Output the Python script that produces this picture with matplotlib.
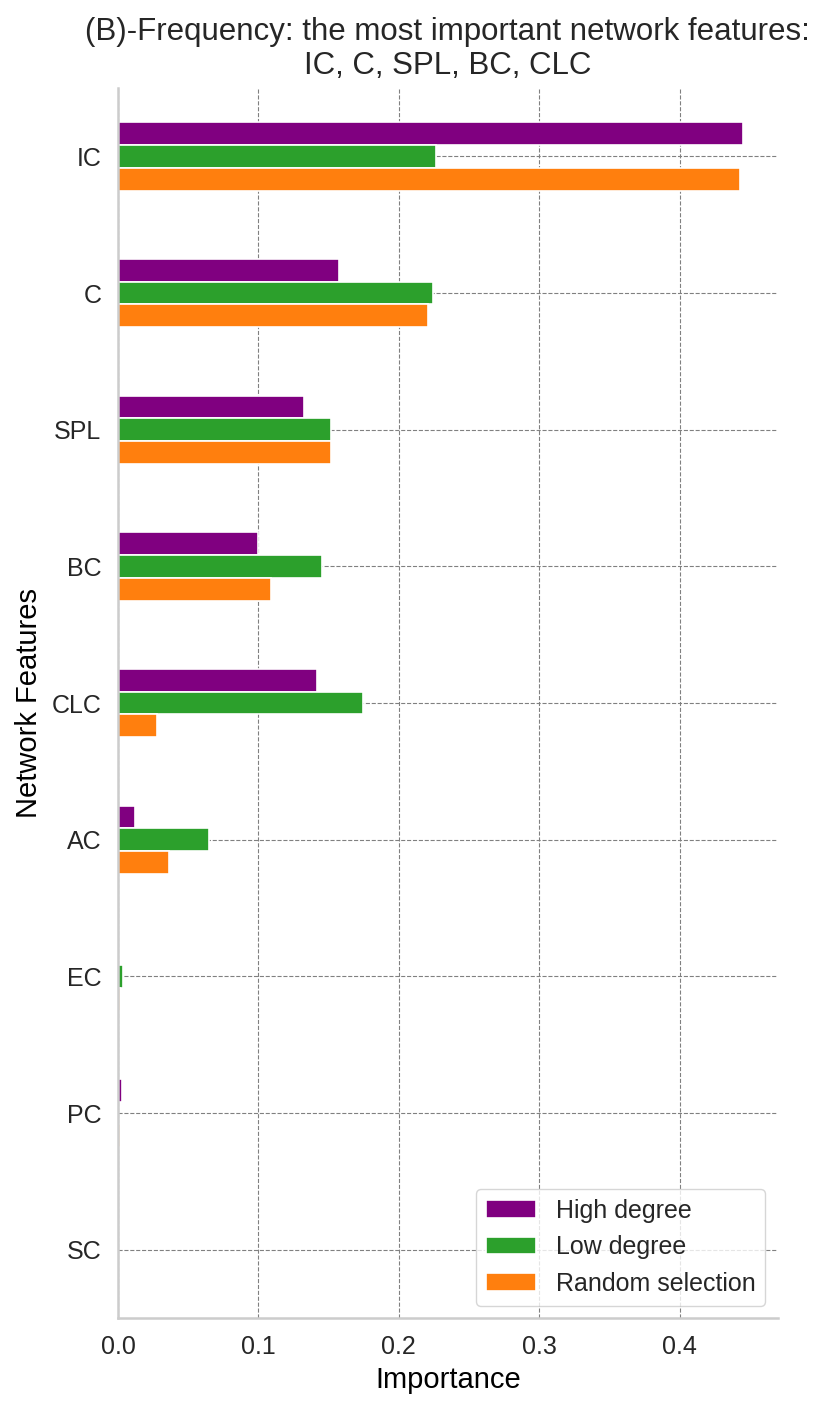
import matplotlib
matplotlib.use("Agg")
import matplotlib.pyplot as plt
import numpy as np
import seaborn as sns

features = ["IC", "C", "SPL", "BC", "CLC", "AC", "EC", "PC", "SC"]
high_degree = [0.4454, 0.1573, 0.1326, 0.0996, 0.1416, 0.0122, 0.0, 0.0028, 0.0]
low_degree = [0.2263, 0.2247, 0.1518, 0.1454, 0.1746, 0.0649, 0.0038, 0.0, 0.0]
random_sel = [0.4429, 0.2207, 0.1516, 0.1088, 0.0281, 0.0365, 0.0012, 0.0012, 0.0]

series = [("High degree", high_degree, "purple"),
          ("Low degree", low_degree, "#2ca02c"),
          ("Random selection", random_sel, "#ff7f0e")]

sns.set_style("whitegrid")
plt.rcParams['font.family'] = ['Liberation Sans', 'DejaVu Sans']

fig = plt.figure(figsize=(8.31, 14.08), dpi=100)
ax = fig.add_axes([0.142, 0.0639, 0.794, 0.8736])

y = np.arange(len(features))
h = 0.5 / 3
for i, (name, vals, col) in enumerate(series):
    ax.barh(y + (i - 1) * h, vals, height=h, color=col, label=name,
            edgecolor="white", linewidth=1.2, zorder=2)

ax.set_yticks(y)
ax.set_yticklabels(features)
ax.set_ylim(8.5, -0.5)
ax.set_xlim(0, 0.47)
ax.set_xticks([0.0, 0.1, 0.2, 0.3, 0.4])

ax.set_axisbelow(True)
ax.grid(True, linestyle="--", color="gray", linewidth=0.8)
ax.tick_params(axis="both", length=0, pad=12, labelsize=18, labelcolor="#262626")

for side in ["top", "right"]:
    ax.spines[side].set_visible(False)
for side in ["left", "bottom"]:
    ax.spines[side].set_color("#cccccc")
    ax.spines[side].set_linewidth(1.8)

ax.set_title("(B)-Frequency: the most important network features:\nIC, C, SPL, BC, CLC",
             fontsize=22.5, color="#262626", pad=10)
ax.set_xlabel("Importance", fontsize=21, color="black", labelpad=5)
ax.set_ylabel("Network Features", fontsize=21, color="black", labelpad=6)

leg = ax.legend(loc="lower right", fontsize=18, frameon=True)
leg.get_frame().set_edgecolor("#cccccc")

plt.savefig("out.png", dpi=100)
